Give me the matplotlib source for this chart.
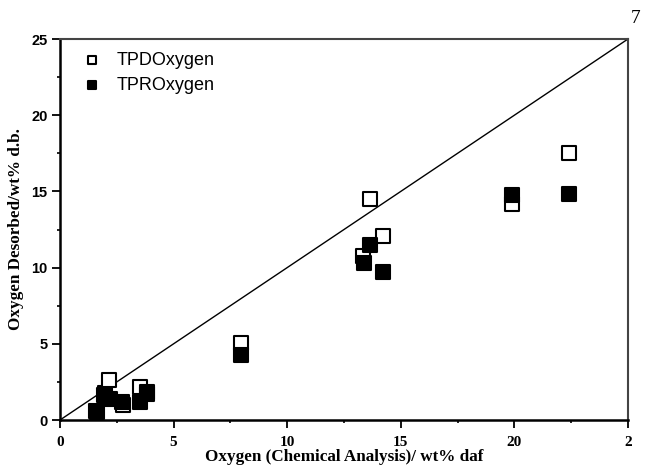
import matplotlib
matplotlib.use('Agg')
import matplotlib.pyplot as plt
from matplotlib.ticker import MultipleLocator

# open squares: TPD oxygen
TPD_X = [1.6, 2.0, 2.17, 2.79, 3.54, 3.84, 7.95, 13.35, 13.64, 14.2, 19.88, 22.39]
TPD_Y = [0.6, 1.8, 2.6, 1.0, 2.17, 1.7, 5.07, 10.76, 14.48, 12.07, 14.2, 17.54]

# filled squares: TPR oxygen
TPR_X = [1.63, 1.94, 2.2, 2.74, 3.54, 3.84, 7.95, 13.38, 13.64, 14.23, 19.89, 22.39]
TPR_Y = [0.5, 1.64, 1.35, 1.2, 1.2, 1.82, 4.27, 10.28, 11.48, 9.69, 14.74, 14.8]

X_TICKS = [0, 5, 10, 15, 20, 25]
X_TICK_LABELS = ['0', '5', '10', '15', '20', '2']
Y_TICKS = [0, 5, 10, 15, 20, 25]

SERIF = 'Liberation Serif'
SANS = 'Liberation Sans'


def main():
    fig = plt.figure(figsize=(6.48, 4.66), dpi=100)
    ax = fig.add_axes([0.0926, 0.0987, 0.8765, 0.8176])

    ax.plot([0, 25], [0, 25], color='black', linewidth=1.0, zorder=1)

    ax.scatter(TPD_X, TPD_Y, marker='s', s=105, facecolors='white',
               edgecolors='black', linewidths=1.5, label='TPDOxygen', zorder=2)
    ax.scatter(TPR_X, TPR_Y, marker='s', s=105, facecolors='black',
               edgecolors='black', linewidths=1.5, label='TPROxygen', zorder=3)

    ax.set_xlim(0, 25)
    ax.set_ylim(0, 25)
    ax.set_xticks(X_TICKS)
    ax.set_xticklabels(X_TICK_LABELS, fontfamily=SERIF, fontweight='bold', fontsize=11)
    ax.set_yticks(Y_TICKS)
    ax.set_yticklabels([str(v) for v in Y_TICKS], fontfamily=SANS, fontweight='bold', fontsize=10.5)
    ax.xaxis.set_minor_locator(MultipleLocator(2.5))
    ax.yaxis.set_minor_locator(MultipleLocator(2.5))
    ax.tick_params(which='major', direction='out', length=5.5, width=1.3, top=False, right=False)
    ax.tick_params(which='minor', direction='out', length=2.5, width=1.2, top=False, right=False)
    ax.tick_params(axis='x', pad=6)

    for side in ['left', 'bottom']:
        ax.spines[side].set_linewidth(1.8)
        ax.spines[side].set_color('black')
    for side in ['top', 'right']:
        ax.spines[side].set_linewidth(1.5)
        ax.spines[side].set_color('#444444')

    ax.set_xlabel('Oxygen (Chemical Analysis)/ wt% daf', fontfamily=SERIF,
                  fontweight='bold', fontsize=12.3, labelpad=0)
    ax.set_ylabel('Oxygen Desorbed/wt% d.b.', fontfamily=SERIF,
                  fontweight='bold', fontsize=12.3, labelpad=5)

    ax.legend(loc='upper left', frameon=False, markerscale=0.5,
              prop={'family': SANS, 'size': 13}, handletextpad=0.75,
              borderaxespad=0.0, labelspacing=0.45, handlelength=1.2,
              bbox_to_anchor=(0.025, 0.985))

    fig.text(0.988, 0.96, '7', fontfamily=SERIF, fontsize=14, ha='right', va='center')

    fig.savefig('out.png', dpi=100)


if __name__ == '__main__':
    main()
